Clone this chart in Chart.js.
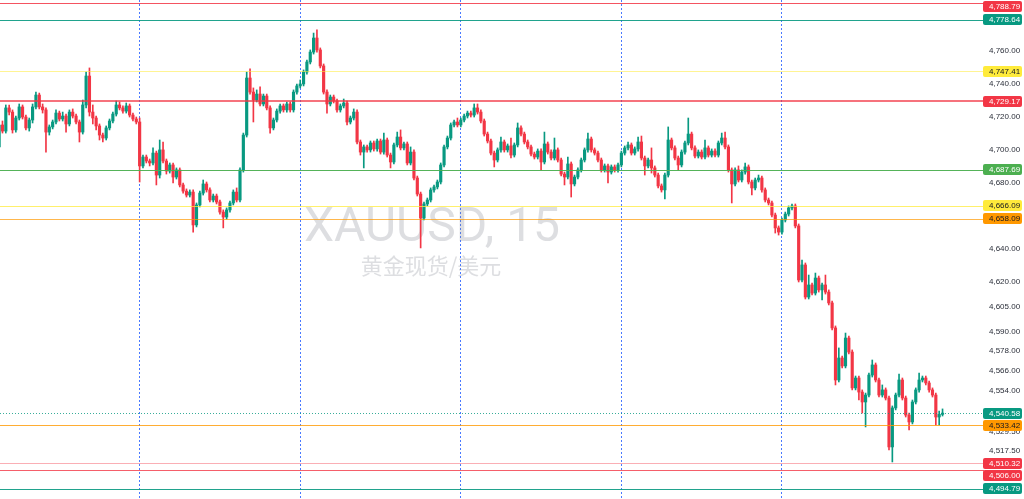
<!DOCTYPE html>
<html>
<head>
<meta charset="utf-8">
<title>XAUUSD, 15</title>
<script src="https://cdn.jsdelivr.net/npm/chart.js@4.4.1/dist/chart.umd.min.js"></script>
<style>
  html, body { margin: 0; padding: 0; background: #ffffff; overflow: hidden; }
  #wrap { width: 1024px; height: 499px; }
</style>
</head>
<body>
<div id="wrap"><canvas id="chart" width="1024" height="499"></canvas></div>
<script>
// XAUUSD 15m candles (one entry per bar, left to right)
const opens = [
  4701.6, 4714.9, 4711.2, 4725.2, 4722.7, 4711.9, 4719.1, 4725.8, 4719.7, 4713.1,
  4717.9, 4725.8, 4733.0, 4725.8, 4724.0, 4710.6, 4713.7, 4716.7, 4722.1, 4718.5,
  4720.3, 4715.5, 4722.7, 4720.3, 4716.7, 4710.6, 4727.0, 4744.5, 4722.7, 4719.1,
  4714.3, 4708.8, 4707.0, 4713.1, 4717.3, 4721.5, 4727.0, 4725.2, 4723.3, 4726.4,
  4720.9, 4718.5, 4716.7, 4690.1, 4695.5, 4693.1, 4691.9, 4697.9, 4684.6, 4699.8,
  4693.1, 4687.0, 4690.7, 4683.4, 4687.7, 4678.6, 4674.9, 4672.5, 4674.3, 4654.4,
  4666.5, 4673.7, 4679.2, 4675.6, 4669.5, 4671.9, 4668.3, 4662.2, 4659.2, 4663.5,
  4667.7, 4674.3, 4669.5, 4687.7, 4708.8, 4743.3, 4734.8, 4730.0, 4733.6, 4727.6,
  4732.4, 4725.2, 4713.1, 4717.9, 4723.3, 4726.4, 4724.0, 4727.6, 4724.0, 4734.8,
  4738.5, 4739.7, 4746.9, 4753.0, 4759.0, 4767.5, 4760.3, 4750.6, 4734.8, 4727.6,
  4731.8, 4729.4, 4724.0, 4726.4, 4728.2, 4716.7, 4719.1, 4722.7, 4704.6, 4698.5,
  4701.6, 4699.8, 4704.0, 4700.4, 4705.2, 4698.5, 4705.8, 4696.7, 4692.5, 4702.8,
  4707.6, 4701.0, 4703.4, 4691.9, 4698.5, 4682.8, 4673.1, 4658.6, 4667.1, 4669.5,
  4675.6, 4677.4, 4680.4, 4690.7, 4701.6, 4707.0, 4714.9, 4716.7, 4714.9, 4717.9,
  4720.3, 4722.1, 4720.9, 4725.2, 4722.7, 4717.3, 4709.4, 4705.2, 4697.9, 4693.7,
  4699.8, 4704.6, 4699.8, 4702.2, 4696.7, 4702.8, 4713.1, 4709.4, 4704.6, 4701.6,
  4697.3, 4695.5, 4699.1, 4692.5, 4703.4, 4698.5, 4694.9, 4699.8, 4693.7, 4685.2,
  4683.4, 4691.3, 4679.2, 4683.4, 4687.7, 4693.7, 4699.8, 4706.4, 4699.8, 4697.9,
  4693.7, 4687.7, 4690.1, 4686.4, 4689.5, 4687.7, 4690.7, 4697.9, 4701.0, 4702.8,
  4697.9, 4700.4, 4704.6, 4694.9, 4690.1, 4693.7, 4688.9, 4684.6, 4678.0, 4675.6,
  4684.6, 4705.8, 4701.0, 4694.9, 4690.7, 4698.5, 4704.0, 4709.4, 4701.0, 4696.1,
  4698.5, 4695.5, 4701.0, 4696.7, 4699.1, 4696.7, 4704.0, 4707.0, 4701.6, 4687.7,
  4679.2, 4687.7, 4681.6, 4686.4, 4689.5, 4680.4, 4676.8, 4681.6, 4682.8, 4675.6,
  4669.5, 4667.7, 4660.4, 4652.6, 4650.1, 4657.4, 4661.0, 4664.7, 4665.9, 4653.8,
  4621.1, 4630.2, 4610.8, 4618.1, 4613.2, 4622.3, 4615.1, 4618.1, 4613.8, 4607.2,
  4592.1, 4560.6, 4573.9, 4569.1, 4586.0, 4577.5, 4555.8, 4561.8, 4553.3, 4547.3,
  4551.5, 4563.6, 4569.7, 4560.6, 4551.5, 4554.6, 4549.7, 4520.1, 4543.7, 4551.5,
  4560.6, 4549.7, 4539.4, 4535.2, 4547.3, 4554.6, 4560.6, 4561.8, 4558.8, 4554.6,
  4551.5, 4538.2, 4539.8
];
const highs = [
  4716.7, 4717.3, 4727.0, 4727.0, 4724.0, 4720.3, 4727.6, 4727.0, 4720.9, 4719.1,
  4727.6, 4734.8, 4734.2, 4727.6, 4725.2, 4714.9, 4717.9, 4724.0, 4723.3, 4722.7,
  4721.5, 4724.0, 4724.6, 4721.5, 4717.9, 4730.0, 4746.9, 4749.4, 4727.0, 4720.3,
  4715.5, 4710.0, 4714.3, 4718.5, 4722.7, 4729.4, 4728.8, 4726.4, 4728.2, 4727.6,
  4722.1, 4719.7, 4719.1, 4696.7, 4696.7, 4694.3, 4701.0, 4699.1, 4705.8, 4704.6,
  4694.3, 4691.9, 4691.9, 4688.9, 4688.9, 4679.8, 4676.2, 4675.6, 4675.6, 4667.7,
  4674.9, 4681.6, 4680.4, 4676.8, 4673.1, 4673.1, 4669.5, 4663.5, 4664.7, 4668.9,
  4675.6, 4676.8, 4688.9, 4710.0, 4746.9, 4748.8, 4737.3, 4736.1, 4737.9, 4733.6,
  4733.6, 4726.4, 4719.1, 4724.6, 4727.6, 4727.6, 4728.8, 4728.8, 4736.1, 4739.7,
  4742.1, 4748.2, 4754.2, 4760.3, 4770.5, 4772.4, 4761.5, 4751.8, 4736.1, 4733.0,
  4733.0, 4730.6, 4727.6, 4730.6, 4729.4, 4720.3, 4724.6, 4724.0, 4705.8, 4702.8,
  4702.8, 4705.2, 4705.2, 4706.4, 4706.4, 4710.0, 4707.0, 4697.9, 4704.0, 4710.6,
  4711.9, 4704.6, 4704.6, 4701.6, 4699.8, 4684.0, 4674.3, 4668.3, 4670.7, 4676.8,
  4678.6, 4681.6, 4691.9, 4702.8, 4708.2, 4716.1, 4717.9, 4719.1, 4719.1, 4721.5,
  4723.3, 4723.3, 4727.6, 4727.6, 4724.0, 4718.5, 4710.6, 4706.4, 4699.1, 4701.0,
  4707.6, 4705.8, 4703.4, 4707.0, 4704.0, 4716.1, 4714.3, 4710.6, 4705.8, 4702.8,
  4698.5, 4700.4, 4700.4, 4710.6, 4704.6, 4699.8, 4707.0, 4701.0, 4694.9, 4686.4,
  4695.5, 4692.5, 4684.6, 4688.9, 4694.9, 4701.0, 4710.0, 4707.6, 4701.0, 4699.1,
  4694.9, 4691.3, 4691.3, 4690.7, 4690.7, 4691.9, 4699.1, 4702.2, 4704.6, 4704.0,
  4701.6, 4707.6, 4708.2, 4696.1, 4694.9, 4701.0, 4690.1, 4685.8, 4679.2, 4685.8,
  4713.7, 4707.0, 4702.2, 4696.1, 4699.8, 4705.2, 4719.1, 4710.6, 4702.2, 4699.8,
  4699.8, 4705.8, 4702.2, 4700.4, 4700.4, 4705.2, 4710.0, 4710.6, 4702.8, 4688.9,
  4688.9, 4690.1, 4687.7, 4691.9, 4690.7, 4681.6, 4682.8, 4684.6, 4684.0, 4676.8,
  4670.7, 4668.9, 4661.6, 4653.8, 4658.6, 4662.2, 4665.9, 4667.1, 4667.1, 4655.0,
  4633.2, 4631.4, 4624.1, 4619.3, 4625.3, 4623.5, 4619.3, 4624.1, 4615.1, 4608.4,
  4593.3, 4580.0, 4575.1, 4589.0, 4587.2, 4578.8, 4563.0, 4563.0, 4554.6, 4552.7,
  4564.8, 4572.7, 4570.9, 4561.8, 4557.6, 4555.8, 4550.9, 4544.9, 4552.7, 4564.2,
  4561.8, 4550.9, 4540.6, 4548.5, 4555.8, 4564.8, 4563.0, 4563.0, 4560.0, 4555.8,
  4552.7, 4541.8, 4543.1
];
const lows = [
  4699.8, 4710.0, 4710.0, 4720.9, 4710.0, 4710.6, 4717.9, 4718.5, 4711.9, 4711.2,
  4716.1, 4724.6, 4724.6, 4722.1, 4698.5, 4708.8, 4712.5, 4715.5, 4717.3, 4717.3,
  4710.6, 4714.3, 4719.1, 4715.5, 4704.6, 4709.4, 4725.2, 4720.3, 4715.5, 4711.9,
  4705.8, 4704.6, 4705.8, 4711.9, 4716.1, 4720.3, 4724.0, 4722.1, 4722.1, 4719.7,
  4717.3, 4715.5, 4680.4, 4688.9, 4691.9, 4690.1, 4690.7, 4678.6, 4682.8, 4691.9,
  4685.2, 4685.8, 4679.8, 4682.2, 4677.4, 4673.7, 4671.3, 4671.3, 4650.1, 4653.2,
  4665.3, 4672.5, 4674.3, 4668.3, 4668.3, 4667.1, 4661.0, 4652.6, 4658.0, 4662.2,
  4666.5, 4668.3, 4668.3, 4686.4, 4707.6, 4733.6, 4716.7, 4728.8, 4726.4, 4726.4,
  4724.0, 4710.0, 4711.9, 4716.7, 4722.1, 4722.7, 4722.7, 4722.7, 4722.7, 4733.6,
  4737.3, 4738.5, 4745.7, 4751.8, 4757.8, 4759.0, 4749.4, 4733.6, 4722.1, 4726.4,
  4728.2, 4722.7, 4722.7, 4725.2, 4714.9, 4715.5, 4717.9, 4703.4, 4696.7, 4688.9,
  4698.5, 4698.5, 4699.1, 4699.1, 4697.3, 4697.3, 4695.5, 4688.9, 4691.3, 4701.6,
  4699.8, 4699.8, 4690.7, 4690.7, 4681.6, 4671.9, 4640.5, 4657.4, 4665.9, 4668.3,
  4674.3, 4676.2, 4679.2, 4689.5, 4700.4, 4705.8, 4713.7, 4713.7, 4713.7, 4716.7,
  4719.1, 4719.7, 4719.7, 4721.5, 4716.1, 4708.2, 4704.0, 4696.7, 4689.5, 4692.5,
  4698.5, 4698.5, 4698.5, 4694.9, 4695.5, 4701.6, 4708.2, 4703.4, 4700.4, 4696.1,
  4694.3, 4694.3, 4687.7, 4691.3, 4697.3, 4693.7, 4693.7, 4692.5, 4684.0, 4678.6,
  4682.2, 4671.3, 4678.0, 4682.2, 4686.4, 4692.5, 4698.5, 4698.5, 4696.7, 4692.5,
  4686.4, 4686.4, 4679.8, 4685.2, 4686.4, 4686.4, 4689.5, 4696.7, 4699.8, 4696.7,
  4696.7, 4699.1, 4693.7, 4684.6, 4688.9, 4685.8, 4683.4, 4676.8, 4674.3, 4670.1,
  4683.4, 4699.8, 4693.7, 4687.7, 4689.5, 4697.3, 4702.8, 4699.8, 4694.9, 4694.9,
  4694.3, 4694.3, 4695.5, 4695.5, 4695.5, 4695.5, 4702.8, 4700.4, 4686.4, 4667.7,
  4678.0, 4680.4, 4680.4, 4685.2, 4679.2, 4672.5, 4675.6, 4680.4, 4674.3, 4668.3,
  4666.5, 4659.2, 4649.5, 4648.3, 4648.9, 4656.2, 4659.8, 4663.5, 4652.6, 4619.9,
  4619.9, 4609.6, 4609.6, 4612.0, 4612.0, 4613.8, 4609.0, 4612.6, 4606.0, 4590.9,
  4557.6, 4559.4, 4567.9, 4567.9, 4576.3, 4554.6, 4554.6, 4548.5, 4540.6, 4532.2,
  4550.3, 4562.4, 4559.4, 4550.3, 4550.3, 4548.5, 4518.3, 4511.0, 4542.5, 4550.3,
  4548.5, 4538.2, 4530.4, 4534.0, 4546.1, 4553.3, 4559.4, 4557.6, 4553.3, 4550.3,
  4533.4, 4533.4, 4538.8
];
const closes = [
  4714.9, 4711.2, 4725.2, 4722.7, 4711.9, 4719.1, 4725.8, 4719.7, 4713.1, 4717.9,
  4725.8, 4733.0, 4725.8, 4724.0, 4710.6, 4713.7, 4716.7, 4722.1, 4718.5, 4720.3,
  4715.5, 4722.7, 4720.3, 4716.7, 4710.6, 4727.0, 4744.5, 4722.7, 4719.1, 4714.3,
  4708.8, 4707.0, 4713.1, 4717.3, 4721.5, 4727.0, 4725.2, 4723.3, 4726.4, 4720.9,
  4718.5, 4716.7, 4690.1, 4695.5, 4693.1, 4691.9, 4697.9, 4684.6, 4699.8, 4693.1,
  4687.0, 4690.7, 4683.4, 4687.7, 4678.6, 4674.9, 4672.5, 4674.3, 4654.4, 4666.5,
  4673.7, 4679.2, 4675.6, 4669.5, 4671.9, 4668.3, 4662.2, 4659.2, 4663.5, 4667.7,
  4674.3, 4669.5, 4687.7, 4708.8, 4743.3, 4734.8, 4730.0, 4733.6, 4727.6, 4732.4,
  4725.2, 4713.1, 4717.9, 4723.3, 4726.4, 4724.0, 4727.6, 4724.0, 4734.8, 4738.5,
  4739.7, 4746.9, 4753.0, 4759.0, 4767.5, 4760.3, 4750.6, 4734.8, 4727.6, 4731.8,
  4729.4, 4724.0, 4726.4, 4728.2, 4716.7, 4719.1, 4722.7, 4704.6, 4698.5, 4701.6,
  4699.8, 4704.0, 4700.4, 4705.2, 4698.5, 4705.8, 4696.7, 4692.5, 4702.8, 4707.6,
  4701.0, 4703.4, 4691.9, 4698.5, 4682.8, 4673.1, 4658.6, 4667.1, 4669.5, 4675.6,
  4677.4, 4680.4, 4690.7, 4701.6, 4707.0, 4714.9, 4716.7, 4714.9, 4717.9, 4720.3,
  4722.1, 4720.9, 4725.2, 4722.7, 4717.3, 4709.4, 4705.2, 4697.9, 4693.7, 4699.8,
  4704.6, 4699.8, 4702.2, 4696.7, 4702.8, 4713.1, 4709.4, 4704.6, 4701.6, 4697.3,
  4695.5, 4699.1, 4692.5, 4703.4, 4698.5, 4694.9, 4699.8, 4693.7, 4685.2, 4683.4,
  4691.3, 4679.2, 4683.4, 4687.7, 4693.7, 4699.8, 4706.4, 4699.8, 4697.9, 4693.7,
  4687.7, 4690.1, 4686.4, 4689.5, 4687.7, 4690.7, 4697.9, 4701.0, 4702.8, 4697.9,
  4700.4, 4704.6, 4694.9, 4690.1, 4693.7, 4688.9, 4684.6, 4678.0, 4675.6, 4684.6,
  4705.8, 4701.0, 4694.9, 4690.7, 4698.5, 4704.0, 4709.4, 4701.0, 4696.1, 4698.5,
  4695.5, 4701.0, 4696.7, 4699.1, 4696.7, 4704.0, 4707.0, 4701.6, 4687.7, 4679.2,
  4687.7, 4681.6, 4686.4, 4689.5, 4680.4, 4676.8, 4681.6, 4682.8, 4675.6, 4669.5,
  4667.7, 4660.4, 4652.6, 4650.1, 4657.4, 4661.0, 4664.7, 4665.9, 4653.8, 4621.1,
  4630.2, 4610.8, 4618.1, 4613.2, 4622.3, 4615.1, 4618.1, 4613.8, 4607.2, 4592.1,
  4560.6, 4573.9, 4569.1, 4586.0, 4577.5, 4555.8, 4561.8, 4553.3, 4547.3, 4551.5,
  4563.6, 4569.7, 4560.6, 4551.5, 4554.6, 4549.7, 4520.1, 4543.7, 4551.5, 4560.6,
  4549.7, 4539.4, 4535.2, 4547.3, 4554.6, 4560.6, 4561.8, 4558.8, 4554.6, 4551.5,
  4538.2, 4539.8, 4540.58
];

// price scale labels shown on the right
const priceTicks = [4780, 4760, 4740, 4720, 4700, 4680, 4660, 4640, 4620, 4605, 4590, 4578, 4566, 4554, 4529.5, 4517.5];
// bar numbers where the dotted session separators sit
const sessionBreaks = [42, 90, 138, 186, 234];
// horizontal levels with their price tags
const levelPrices = [4788.79, 4778.64, 4747.41, 4729.17, 4687.69, 4666.09, 4658.09, 4540.58, 4533.42, 4510.32, 4506.00, 4494.79];

const UP = '#089981';
const DOWN = '#f23645';
const FONT = "'Liberation Sans', Arial, sans-serif";

// look of each level line / tag (same order as levelPrices)
const levelLook = [
  { line: 'rgba(242,54,69,0.85)', width: 1, tag: '#f23645', text: '#ffffff' },
  { line: 'rgba(8,153,129,0.9)', width: 1, tag: '#089981', text: '#ffffff' },
  { line: 'rgba(255,235,59,0.55)', width: 1, tag: '#ffeb3b', text: '#131722' },
  { line: 'rgba(242,54,69,0.7)', width: 2, tag: '#f23645', text: '#ffffff' },
  { line: 'rgba(76,175,80,0.95)', width: 1, tag: '#4caf50', text: '#ffffff' },
  { line: 'rgba(255,235,59,0.75)', width: 1, tag: '#ffeb3b', text: '#131722' },
  { line: 'rgba(255,152,0,0.7)', width: 1, tag: '#ff9800', text: '#131722' },
  { line: 'rgba(8,153,129,0.8)', width: 1, tag: '#089981', text: '#ffffff', dash: [1, 2] },
  { line: 'rgba(255,152,0,0.8)', width: 1, tag: '#ff9800', text: '#131722' },
  { line: 'rgba(242,54,69,0.4)', width: 1, tag: '#f23645', text: '#ffffff' },
  { line: 'rgba(242,54,69,0.8)', width: 1, tag: '#f23645', text: '#ffffff' },
  { line: 'rgba(8,153,129,0.9)', width: 1, tag: '#089981', text: '#ffffff' }
];

const fmt = v => v.toLocaleString('en-US', { minimumFractionDigits: 2, maximumFractionDigits: 2 });
const candleColor = i => (closes[i] >= opens[i] ? UP : DOWN);

// watermark behind the candles
const watermark = {
  id: 'watermark',
  beforeDatasetsDraw(chart) {
    const c = chart.ctx;
    c.save();
    c.fillStyle = 'rgba(120,123,134,0.25)';
    c.textAlign = 'center';
    c.textBaseline = 'alphabetic';
    c.font = "48px Roboto, 'Liberation Sans', sans-serif";
    c.fillText('XAUUSD, 15', 432, 241);
    c.font = "22px 'Noto Sans CJK SC', sans-serif";
    c.fillText('黄金现货/美元', 431, 274);
    c.restore();
  }
};

// horizontal levels across the pane, tags on the price scale
const levels = {
  id: 'levels',
  afterDatasetsDraw(chart) {
    const c = chart.ctx;
    const y = chart.scales.y;
    const area = chart.chartArea;
    c.save();
    levelPrices.forEach((p, i) => {
      const look = levelLook[i];
      const py = Math.round(y.getPixelForValue(p)) + (look.width === 1 ? 0.5 : 0);
      c.strokeStyle = look.line;
      c.lineWidth = look.width;
      c.setLineDash(look.dash || []);
      c.beginPath();
      c.moveTo(area.left, py);
      c.lineTo(area.right + 3, py);
      c.stroke();
    });
    c.restore();
  },
  afterDraw(chart) {
    const c = chart.ctx;
    const y = chart.scales.y;
    const h = 11;
    const tags = levelPrices.map((p, i) => ({ p, i, cy: y.getPixelForValue(p) }))
      .sort((a, b) => a.cy - b.cy);
    let prevBottom = -Infinity;
    tags.forEach(t => {
      let cy = Math.max(t.cy, h / 2 + 0.5);
      if (cy - h / 2 < prevBottom + 1) cy = prevBottom + 1 + h / 2;
      t.cy = cy;
      prevBottom = cy + h / 2;
    });
    c.save();
    c.font = '8px ' + FONT;
    c.textBaseline = 'middle';
    c.textAlign = 'left';
    tags.forEach(t => {
      const look = levelLook[t.i];
      const top = Math.round(t.cy - h / 2);
      c.fillStyle = look.tag;
      c.beginPath();
      c.roundRect(y.left + 2, top, 39, h, 2);
      c.fill();
      c.fillStyle = look.text;
      c.fillText(fmt(t.p), y.left + 8, top + h / 2 + 0.5);
    });
    c.restore();
  }
};

new Chart(document.getElementById('chart'), {
  type: 'bar',
  data: {
    datasets: [
      {
        label: 'body',
        data: opens.map((o, i) => ({ x: i, y: [o, closes[i]] })),
        backgroundColor: ctx => candleColor(ctx.dataIndex),
        barThickness: 2.5,
        minBarLength: 1,
        grouped: false,
        borderWidth: 0
      },
      {
        label: 'wick',
        data: highs.map((hi, i) => ({ x: i, y: [lows[i], hi] })),
        backgroundColor: ctx => candleColor(ctx.dataIndex),
        barThickness: 1,
        grouped: false,
        borderWidth: 0
      }
    ]
  },
  options: {
    responsive: false,
    animation: false,
    devicePixelRatio: 1,
    layout: { padding: 0, autoPadding: false },
    plugins: { legend: { display: false }, tooltip: { enabled: false } },
    scales: {
      x: {
        type: 'linear',
        min: 0.26,
        max: 293.5,
        offset: false,
        afterBuildTicks: s => { s.ticks = sessionBreaks.map(v => ({ value: v })); },
        afterFit: s => { s.height = 0; s.paddingLeft = 0; s.paddingRight = 0; },
        ticks: { display: false },
        grid: { color: 'rgba(41,98,255,0.85)', lineWidth: 1, drawTicks: false, offset: false },
        border: { display: false, dash: [2, 2] }
      },
      y: {
        type: 'linear',
        position: 'right',
        min: 4488.6,
        max: 4790.5,
        afterBuildTicks: s => { s.ticks = priceTicks.map(v => ({ value: v })); },
        afterFit: s => { s.width = 43; s.paddingTop = 0; s.paddingBottom = 0; },
        ticks: {
          autoSkip: false,
          padding: 8,
          color: '#2a2e39',
          font: { family: FONT, size: 8 },
          callback: v => fmt(v)
        },
        grid: { display: false, drawTicks: false },
        border: { display: false }
      }
    }
  },
  plugins: [watermark, levels]
});
</script>
</body>
</html>
